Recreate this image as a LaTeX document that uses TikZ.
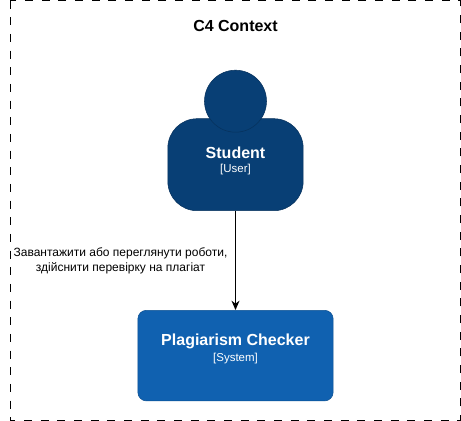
\documentclass[tikz,border=0pt]{standalone}
\usepackage{fontspec}
\setmainfont{Liberation Sans}
\usetikzlibrary{arrows.meta}
\definecolor{persondark}{HTML}{083F75}
\definecolor{personline}{HTML}{06315C}
\definecolor{systemblue}{HTML}{1061B0}
\definecolor{systemline}{HTML}{0D5091}

\tikzset{
    titletext/.style={font=\fontsize{12}{14}\selectfont\bfseries, inner sep=0pt},
    typetext/.style={text=white, font=\fontsize{8.6}{10}\selectfont, inner sep=0pt},
    flowtext/.style={font=\fontsize{9}{11.3}\selectfont, align=center, inner sep=0pt},
}

\begin{document}
\begin{tikzpicture}[x=0.75pt,y=-0.75pt]
    \useasboundingbox (0,0) rectangle (461,421);
    \draw [line width=0.9pt,dash pattern=on 6pt off 6.5pt] (10.5,0.5) rectangle (460.3,420.2);
    \node [titletext] (title) at (235.5,25.5) {C4 Context};

    \node [draw=personline,fill=persondark,rounded corners=22pt,minimum width=101.5pt,minimum height=69pt] (body) at (235.5,164.7) {};
    \node [draw=personline,fill=persondark,circle,minimum size=46.5pt,inner sep=0pt] (head) at (235.5,101.2) {};
    \node [titletext,text=white] (student) at (235.5,152.5) {Student};
    \node [typetext] (usertype) at (235.5,170) {[User]};

    \node [draw=systemline,fill=systemblue,rounded corners=6.5pt,minimum width=146.5pt,minimum height=68pt] (checker) at (235.5,355.6) {};
    \node [titletext,text=white] (checkername) at (235.5,341.7) {Plagiarism Checker};
    \node [typetext] (systemtype) at (235.5,359) {[System]};

    \draw [line width=0.85pt,-{Stealth[length=7pt,width=6pt]}] (body) -- (checker);
    \node [flowtext] (flow) at (120.5,261.3) {Завантажити або переглянути роботи,\\здійснити перевірку на плагіат};
\end{tikzpicture}
\end{document}
